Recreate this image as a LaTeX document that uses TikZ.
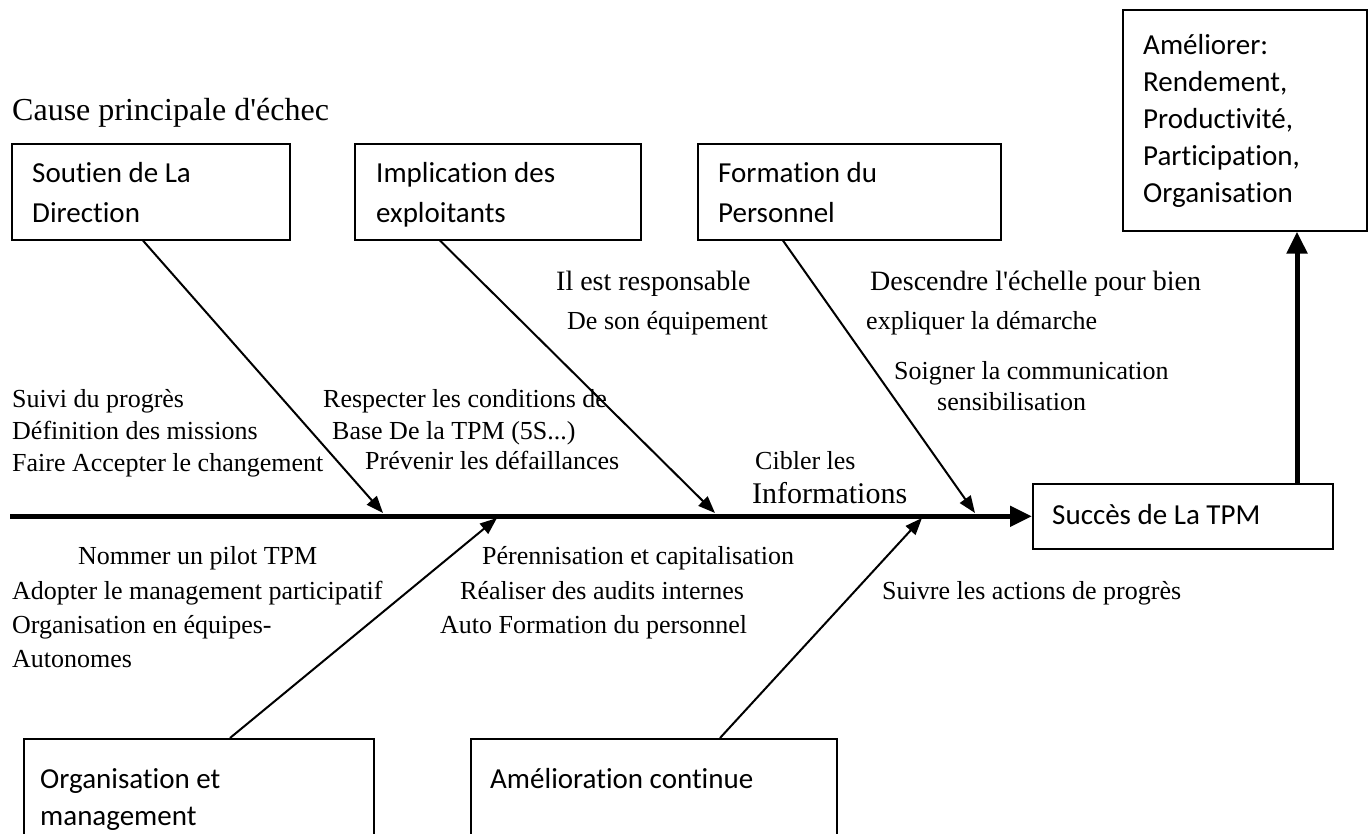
\documentclass[tikz,border=0pt]{standalone}
\usepackage{fontspec}
\setmainfont{Liberation Serif}[Ligatures=NoCommon]
\newfontfamily\boxfont{Carlito}[Ligatures=NoCommon]
\usetikzlibrary{arrows.meta}
\begin{document}
\begin{tikzpicture}[x=1pt,y=-1pt,
  lbl/.style={inner sep=0pt, anchor=base west, font=\fontsize{26}{30}\selectfont},
  biglbl/.style={lbl, font=\fontsize{28}{32}\selectfont},
  cbox/.style={draw, line width=1.6pt, inner sep=0pt, anchor=north west},
  btxt/.style={inner sep=0pt, anchor=base west, font=\boxfont\fontsize{29}{37}\selectfont},
  bone/.style={line width=2pt, -{Triangle[length=17pt,width=13pt]}},
  spine/.style={line width=5pt, -{Triangle[length=22pt,width=20pt]}}]
\useasboundingbox (0,0) rectangle (1372,834);

% title
\node[lbl, font=\fontsize{32}{36}\selectfont] (title) at (12,121) {Cause principale d\textquotesingle échec};

% cause boxes (top)
\node[cbox, minimum width=278pt, minimum height=96pt] (soutien) at (11,143) {};
\node[btxt] (soutienA) at (32,183) {Soutien de La};
\node[btxt] (soutienB) at (32,223) {Direction};

\node[cbox, minimum width=286pt, minimum height=96pt] (implic) at (354,143) {};
\node[btxt] (implicA) at (376,183) {Implication des};
\node[btxt] (implicB) at (376,223) {exploitants};

\node[cbox, minimum width=303pt, minimum height=96pt] (form) at (697,143) {};
\node[btxt] (formA) at (718,183) {Formation du};
\node[btxt] (formB) at (718,223) {Personnel};

% effect boxes
\node[cbox, minimum width=244pt, minimum height=221pt] (amel) at (1122,9) {};
\node[btxt] (amelA) at (1143,55) {Améliorer:};
\node[btxt] (amelB) at (1143,92) {Rendement,};
\node[btxt] (amelC) at (1143,129) {Productivité,};
\node[btxt] (amelD) at (1143,166) {Participation,};
\node[btxt] (amelE) at (1143,203) {Organisation};

\node[cbox, minimum width=300pt, minimum height=65pt] (succes) at (1032,483) {};
\node[btxt] (succesT) at (1052,524) {Succès de La TPM};

% cause boxes (bottom)
\node[cbox, minimum width=350pt, minimum height=140pt] (orga) at (23,738) {};
\node[btxt] (orgaA) at (40,788) {Organisation et};
\node[btxt] (orgaB) at (40,825) {management};

\node[cbox, minimum width=366pt, minimum height=140pt] (amc) at (470,738) {};
\node[btxt] (amcT) at (490,788) {Amélioration continue};

% spine and result arrow
\coordinate (spineStart) at (10,0);
\draw[spine] (spineStart |- succes.west) -- (succes.west);
\draw[spine] (succes.north -| 1297,0) -- (amel.south -| 1297,0);

% bones
\coordinate (s1) at (383,513);
\coordinate (s2) at (715,513);
\coordinate (s3) at (975,513);
\coordinate (s4) at (497,518);
\coordinate (s5) at (922,518);
\draw[bone] (soutien.south -| 143,0) -- (s1);
\draw[bone] (implic.south -| 440,0) -- (s2);
\draw[bone] (form.south -| 783,0) -- (s3);
\draw[bone] (orga.north -| 230,0) -- (s4);
\draw[bone] (amc.north -| 720,0) -- (s5);

% labels above the spine
\node[lbl] (l1) at (12,407) {Suivi du progrès};
\node[lbl] (l2) at (12,439) {Définition des missions};
\node[lbl] (l3) at (12,471) {Faire Accepter le changement};
\node[lbl] (l4) at (323,407) {Respecter les conditions de};
\node[lbl] (l5) at (332,439) {Base De la TPM (5S...)};
\node[lbl] (l6) at (365,469) {Prévenir les défaillances};
\node[biglbl] (l7) at (556,290) {Il est responsable};
\node[lbl] (l8) at (567,329) {De son équipement};
\node[biglbl] (l9) at (870,290) {Descendre l\textquotesingle échelle pour bien};
\node[lbl] (l10) at (866,329) {expliquer la démarche};
\node[lbl] (l11) at (894,379) {Soigner la communication};
\node[lbl] (l12) at (937,410) {sensibilisation};
\node[lbl] (l13) at (755,469) {Cibler les};
\node[lbl, font=\fontsize{30}{34}\selectfont] (l14) at (752,503) {Informations};

% labels below the spine
\node[lbl] (m1) at (78,564) {Nommer un pilot TPM};
\node[lbl] (m2) at (12,599) {Adopter le management participatif};
\node[lbl] (m3) at (12,633) {Organisation en équipes-};
\node[lbl] (m4) at (12,667) {Autonomes};
\node[lbl] (m5) at (482,564) {Pérennisation et capitalisation};
\node[lbl] (m6) at (460,599) {Réaliser des audits internes};
\node[lbl] (m7) at (440,633) {Auto Formation du personnel};
\node[lbl] (m8) at (882,599) {Suivre les actions de progrès};
\end{tikzpicture}
\end{document}
